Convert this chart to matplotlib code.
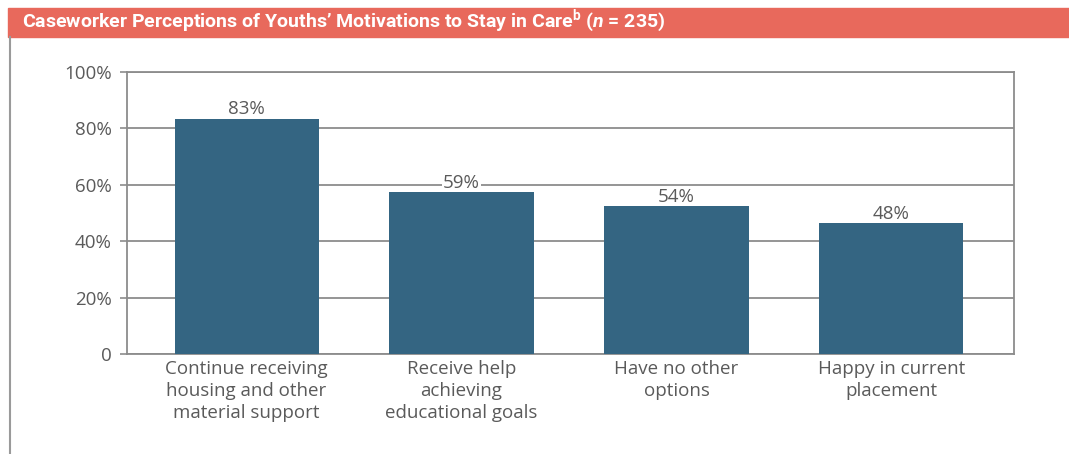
import matplotlib
matplotlib.use("Agg")
import matplotlib.pyplot as plt
from matplotlib.patches import Rectangle
from matplotlib.lines import Line2D

categories = [
    "Continue receiving\nhousing and other\nmaterial support",
    "Receive help\nachieving\neducational goals",
    "Have no other\noptions",
    "Happy in current\nplacement",
]
# bar heights as drawn in the source, and the printed labels
bar_heights = [83.5, 57.3, 52.5, 46.4]
bar_labels = ["83%", "59%", "54%", "48%"]
y_ticks = [0, 20, 40, 60, 80, 100]
y_ticklabels = ["0", "20%", "40%", "60%", "80%", "100%"]
title = "Caseworker Perceptions of Youths\u2019 Motivations to Stay in Care$^{\\rm b}$ ($\\it{n}$ = 235)"

text_col = "#5a5a5a"
grid_col = "#8c8c8c"
bar_col = "#346582"
banner_col = "#e8695c"

plt.rcParams["font.family"] = ["Open Sans", "DejaVu Sans"]
plt.rcParams["mathtext.fontset"] = "custom"
plt.rcParams["mathtext.rm"] = "Roboto:bold"
plt.rcParams["mathtext.it"] = "Roboto:bold:italic"

fig = plt.figure(figsize=(10.69, 4.54), dpi=100)

# title banner and left border
fig.patches.append(Rectangle((8 / 1069, 1 - 37 / 454), 1, 29 / 454,
                             transform=fig.transFigure, color=banner_col, zorder=0))
fig.text(22 / 1069, 1 - 21 / 454, title, color="white", fontsize=14,
         family="Roboto", weight="bold", va="center", ha="left")
fig.lines.append(Line2D([9.5 / 1069, 9.5 / 1069], [0, 1 - 37 / 454],
                        transform=fig.transFigure, color="#9a9a9a", lw=1.5))

ax = fig.add_axes([127 / 1069, 100 / 454, 887 / 1069, 282 / 454])
x = range(len(categories))
bars = ax.bar(x, bar_heights, width=0.67, color=bar_col, zorder=3)
for rect, lab in zip(bars, bar_labels):
    # label sits below the bars in z so its white box never covers a bar
    ax.annotate(lab, (rect.get_x() + rect.get_width() / 2, rect.get_height()),
                xytext=(0, 3), textcoords="offset points", ha="center", va="baseline",
                fontsize=13.5, color=text_col, zorder=2.5,
                bbox=dict(boxstyle="square,pad=0.05", fc="white", ec="none"))

ax.set_xlim(-0.556, 3.57)
ax.set_ylim(0, 100)
ax.set_yticks(y_ticks)
ax.set_yticklabels(y_ticklabels, fontsize=13.5, color=text_col)
ax.set_xticks(list(x))
ax.set_xticklabels(categories, fontsize=13.5, color=text_col, linespacing=1.3)
ax.tick_params(axis="x", length=0, pad=4)
ax.tick_params(axis="y", length=5, width=1.2, color=grid_col, pad=6)
ax.grid(axis="y", color=grid_col, lw=1.3, zorder=0)
ax.set_axisbelow(True)
for s in ax.spines.values():
    s.set_color(grid_col)
    s.set_linewidth(1.3)

fig.savefig("out.png", dpi=100)
